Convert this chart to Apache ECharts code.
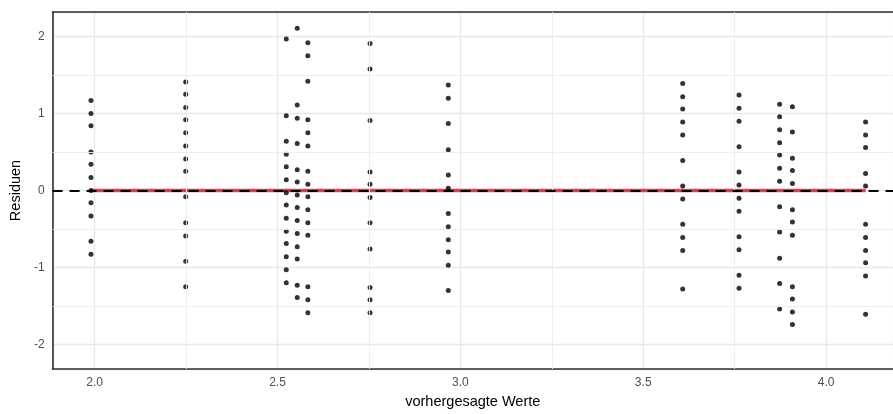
<!DOCTYPE html>
<html>
<head>
<meta charset="utf-8">
<script src="https://cdn.jsdelivr.net/npm/echarts@6/dist/echarts.min.js"></script>
<style>
  html, body { margin: 0; padding: 0; background: #ffffff; }
  #chart { width: 893px; height: 414px; }
</style>
</head>
<body>
<div id="chart"></div>
<script>
// Fitted values (one per group) and the residuals observed at each of them
const fitted = [1.990, 2.249, 2.524, 2.554, 2.583, 2.753, 2.967, 3.608, 3.762, 3.873, 3.908, 4.108];
const residuals = [
  [1.17, 1.00, 0.84, 0.50, 0.34, 0.17, 0.00, -0.16, -0.33, -0.66, -0.83],
  [1.41, 1.25, 1.08, 0.92, 0.75, 0.58, 0.41, 0.25, -0.08, -0.42, -0.59, -0.92, -1.25],
  [1.97, 0.97, 0.64, 0.47, 0.31, 0.14, -0.03, -0.19, -0.36, -0.53, -0.69, -0.86, -1.03, -1.20],
  [2.11, 1.11, 0.94, 0.61, 0.27, 0.11, -0.06, -0.22, -0.39, -0.56, -0.73, -0.89, -1.23, -1.39],
  [1.92, 1.75, 1.42, 0.92, 0.75, 0.58, 0.25, 0.08, -0.08, -0.25, -0.42, -0.58, -1.25, -1.42, -1.59],
  [1.91, 1.58, 0.91, 0.24, 0.08, -0.09, -0.42, -0.76, -1.26, -1.42, -1.59],
  [1.37, 1.20, 0.87, 0.53, 0.20, 0.03, -0.30, -0.47, -0.64, -0.80, -0.97, -1.30],
  [1.39, 1.22, 1.06, 0.89, 0.72, 0.39, 0.06, -0.11, -0.44, -0.61, -0.78, -1.28],
  [1.24, 1.07, 0.90, 0.57, 0.24, 0.07, -0.10, -0.27, -0.60, -0.77, -1.10, -1.27],
  [1.12, 0.96, 0.79, 0.62, 0.46, 0.29, 0.12, -0.21, -0.54, -0.88, -1.21, -1.54],
  [1.09, 0.76, 0.42, 0.26, 0.09, -0.25, -0.41, -0.58, -1.25, -1.41, -1.58, -1.74],
  [0.89, 0.72, 0.56, 0.22, 0.06, -0.44, -0.61, -0.78, -0.94, -1.11, -1.61]
];

// Smoothed residual trend over the fitted range
const smoothX = [1.990, 4.108];
const smoothY = [0.00, 0.00];

// Reference level and minor grid positions
const zeroLevel = 0;
const xMinorTicks = [2.25, 2.75, 3.25, 3.75];
const yMinorTicks = [-1.5, -0.5, 0.5, 1.5];

const points = [];
fitted.forEach((fx, i) => residuals[i].forEach(r => points.push([fx, r])));
const smoothData = smoothX.map((x, i) => [x, smoothY[i]]);

const FONT = '"Liberation Sans", Arial, Helvetica, sans-serif';
const minorStyle = { color: '#ececec', width: 0.9, type: 'solid' };
const frameLine = { show: true, onZero: false, lineStyle: { color: '#2e2e2e', width: 1.6 } };
const X_MIN = 1.885, X_MAX = 4.183;

// Panel frame: left, bottom and top edges only (the right side is open)
const chart = echarts.init(document.getElementById('chart'), null, { renderer: 'canvas' });
chart.setOption({
  animation: false,
  backgroundColor: '#ffffff',
  grid: { left: 52, top: 12, right: 0, bottom: 40, show: false },
  xAxis: [
    {
      type: 'value',
      min: X_MIN, max: X_MAX,
      name: 'vorhergesagte Werte',
      nameLocation: 'middle',
      nameGap: 25,
      nameTextStyle: { fontFamily: FONT, fontSize: 14.5, color: '#000000' },
      axisLine: frameLine,
      axisTick: { show: false },
      axisLabel: {
        showMinLabel: false, showMaxLabel: false,
        margin: 8, fontFamily: FONT, fontSize: 12, color: '#4d4d4d',
        formatter: v => v.toFixed(1)
      },
      splitLine: { show: true, lineStyle: { color: '#e8e8e8', width: 1.3 } }
    },
    {
      type: 'value', position: 'top',
      min: X_MIN, max: X_MAX,
      axisLine: frameLine,
      axisTick: { show: false },
      axisLabel: { show: false },
      splitLine: { show: false }
    }
  ],
  yAxis: {
    type: 'value',
    min: -2.32, max: 2.32,
    name: 'Residuen',
    nameLocation: 'middle',
    nameGap: 24,
    nameRotate: 90,
    nameTextStyle: { fontFamily: FONT, fontSize: 14.5, color: '#000000' },
    axisLine: frameLine,
    axisTick: { show: false },
    axisLabel: {
      showMinLabel: false, showMaxLabel: false,
      margin: 8, fontFamily: FONT, fontSize: 12, color: '#4d4d4d'
    },
    splitLine: { show: true, lineStyle: { color: '#e8e8e8', width: 1.3 } }
  },
  series: [
    {
      // minor grid
      type: 'line', data: [], z: 1, silent: true,
      markLine: {
        silent: true, symbol: 'none', animation: false,
        label: { show: false },
        lineStyle: minorStyle,
        data: xMinorTicks.map(v => ({ xAxis: v }))
          .concat(yMinorTicks.map(v => ({ yAxis: v })))
      }
    },
    {
      // dashed reference line at zero
      type: 'line', data: [], z: 2, silent: true,
      markLine: {
        silent: true, symbol: 'none', animation: false,
        label: { show: false },
        lineStyle: { color: '#000000', width: 2, type: [10, 7] },
        data: [{ yAxis: zeroLevel }]
      }
    },
    {
      // smoothed trend
      type: 'line', data: smoothData, z: 3, silent: true,
      symbol: 'none',
      lineStyle: { color: 'rgba(190, 32, 48, 0.82)', width: 3.4 }
    },
    {
      type: 'scatter', data: points, z: 4, silent: true,
      symbol: 'circle', symbolSize: 5,
      itemStyle: { color: '#000000' }
    }
  ]
});
</script>
</body>
</html>
